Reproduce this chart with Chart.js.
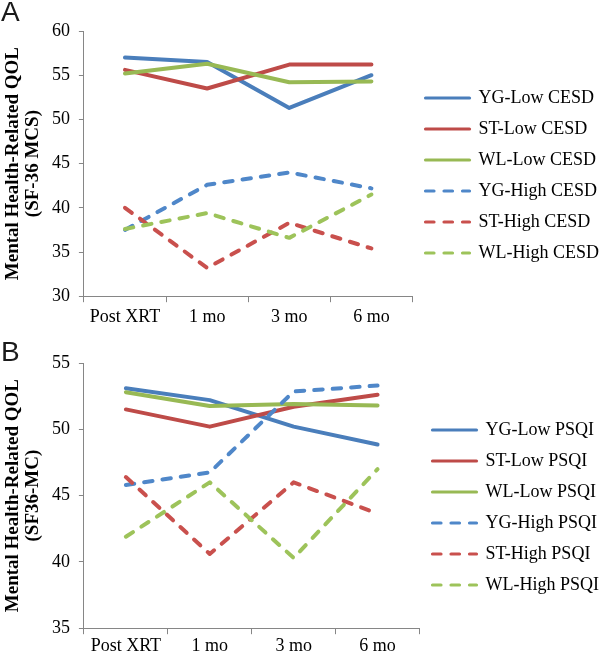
<!DOCTYPE html>
<html>
<head>
<meta charset="utf-8">
<script src="https://cdn.jsdelivr.net/npm/chart.js@4.4.1/dist/chart.umd.min.js"></script>
<style>
html, body { margin: 0; padding: 0; background: #fff; overflow: hidden; width: 602px; height: 655px; position: relative; }
.panel { position: absolute; left: 0; }
.letter { position: absolute; left: 1px; font-family: "Liberation Sans", Arial, sans-serif; font-size: 28px; line-height: 28px; color: #1a1a1a; }
</style>
</head>
<body>
<div class="panel" style="top:0"><canvas id="chartA" width="609" height="332"></canvas></div>
<div class="panel" style="top:326px"><canvas id="chartB" width="609" height="332"></canvas></div>
<div class="letter" style="top:-2px">A</div>
<div class="letter" style="top:338px">B</div>
<script>
const timepoints = ['Post XRT', '1 mo', '3 mo', '6 mo'];

// panel A - CESD groups
const namesA = ['YG-Low CESD', 'ST-Low CESD', 'WL-Low CESD', 'YG-High CESD', 'ST-High CESD', 'WL-High CESD'];
const ygLowA  = [57.0, 56.5, 51.3, 55.0];
const stLowA  = [55.6, 53.5, 56.2, 56.2];
const wlLowA  = [55.2, 56.3, 54.2, 54.3];
const ygHighA = [37.5, 42.6, 44.0, 42.2];
const stHighA = [40.0, 33.2, 38.3, 35.4];
const wlHighA = [37.6, 39.4, 36.6, 41.5];
const yTicksA = [30, 60, 5];

// panel B - PSQI groups
const namesB = ['YG-Low PSQI', 'ST-Low PSQI', 'WL-Low PSQI', 'YG-High PSQI', 'ST-High PSQI', 'WL-High PSQI'];
const ygLowB  = [53.1, 52.2, 50.2, 48.85];
const stLowB  = [51.5, 50.2, 51.7, 52.6];
const wlLowB  = [52.8, 51.75, 51.9, 51.8];
const ygHighB = [45.8, 46.75, 52.85, 53.3];
const stHighB = [46.4, 40.6, 46.0, 43.65];
const wlHighB = [41.9, 46.0, 40.3, 47.0];
const yTicksB = [35, 55, 5];

const solidColors  = ['#4A7EBB', '#BE4B48', '#98B954'];
const dashedColors = ['#4F87C9', '#C9504D', '#9DC35A'];
const serif = '"Liberation Serif", "Times New Roman", serif';
const axisGrey = '#868686';

function buildSets(names, values) {
  return names.map(function(n, i) {
    const dashed = i >= 3;
    return {
      label: n,
      data: values[i],
      borderColor: dashed ? dashedColors[i - 3] : solidColors[i],
      backgroundColor: dashed ? dashedColors[i - 3] : solidColors[i],
      borderWidth: 4,
      borderDash: dashed ? [8.5, 10] : [],
      borderCapStyle: 'round',
      borderJoinStyle: 'round',
      pointRadius: 0,
      tension: 0,
      fill: false
    };
  }).reverse();
}

function makeChart(id, names, values, yt, yTitle, padTop, tickPad) {
  const sets = buildSets(names, values);
  return new Chart(document.getElementById(id).getContext('2d'), {
    type: 'line',
    data: { labels: timepoints, datasets: sets },
    options: {
      responsive: false,
      animation: false,
      layout: { padding: { top: padTop, left: 1, right: 0, bottom: 0 } },
      plugins: {
        tooltip: { enabled: false },
        legend: {
          position: 'right',
          align: 'start',
          reverse: true,
          maxWidth: 300,
          title: { display: true, text: '', font: { size: 10, lineHeight: 1 }, padding: { top: 35, bottom: 0 } },
          labels: {
            color: '#000',
            font: { family: serif, size: 18 },
            usePointStyle: true,
            pointStyle: 'line',
            pointStyleWidth: 44,
            padding: 13,
            generateLabels: function(chart) {
              const items = Chart.defaults.plugins.legend.labels.generateLabels(chart);
              items.forEach(function(it) {
                const ds = chart.data.datasets[it.datasetIndex];
                it.lineDash = ds.borderDash;
                it.lineCap = ds.borderCapStyle;
                it.lineWidth = 3.2;
                it.strokeStyle = ds.borderColor;
              });
              return items;
            }
          }
        }
      },
      scales: {
        x: {
          offset: true,
          grid: { offset: true, drawOnChartArea: false, drawTicks: true, tickLength: 6, color: axisGrey },
          border: { color: axisGrey },
          ticks: { color: '#000', font: { family: serif, size: 18, lineHeight: 1.1 }, padding: tickPad, maxRotation: 0, autoSkip: false }
        },
        y: {
          min: yt[0],
          max: yt[1],
          grid: { drawOnChartArea: false, drawTicks: true, tickLength: 5, color: axisGrey },
          border: { color: axisGrey },
          ticks: { stepSize: yt[2], color: '#000', font: { family: serif, size: 18 }, padding: 9 },
          title: {
            display: true,
            text: yTitle,
            color: '#000',
            font: { family: serif, size: 19, weight: 'bold', lineHeight: 1.05 },
            padding: { top: 2, bottom: 0 }
          }
        }
      }
    }
  });
}

makeChart('chartA', namesA, [ygLowA, stLowA, wlLowA, ygHighA, stHighA, wlHighA], yTicksA,
  ['Mental Health-Related QOL', '(SF-36 MCS)'], 31, 5);
makeChart('chartB', namesB, [ygLowB, stLowB, wlLowB, ygHighB, stHighB, wlHighB], yTicksB,
  ['Mental Health-Related QOL', '(SF36-MC)'], 37, 2);
</script>
</body>
</html>
